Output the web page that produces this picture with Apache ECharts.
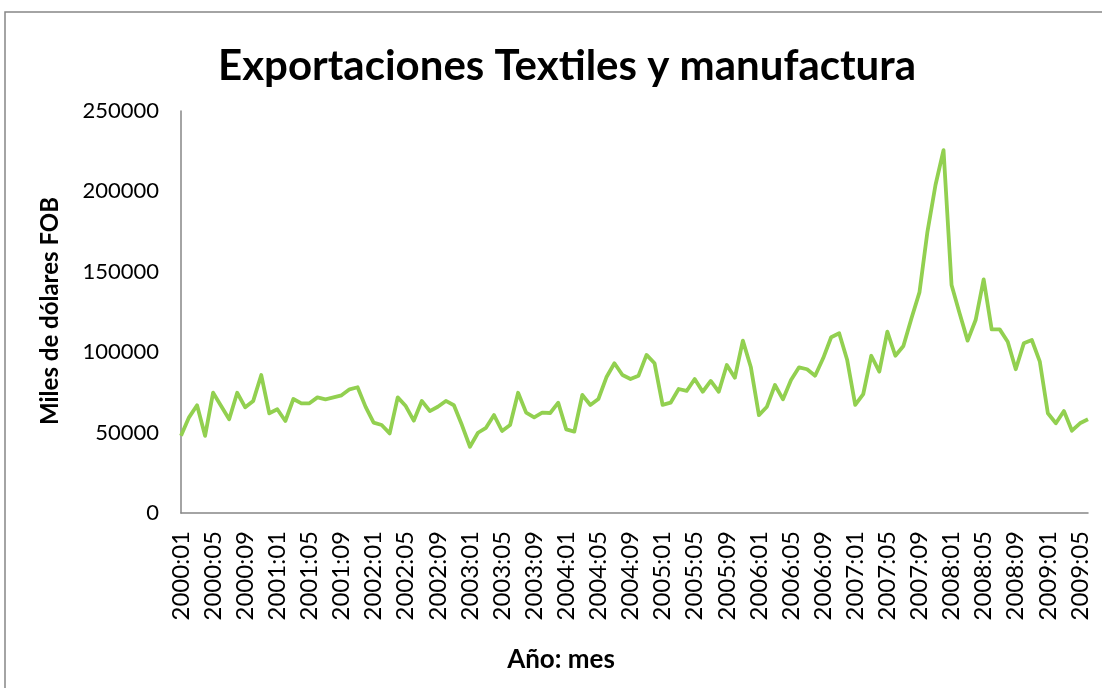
<!DOCTYPE html>
<html>
<head>
<meta charset="utf-8">
<script src="https://cdn.jsdelivr.net/npm/echarts@6/dist/echarts.min.js"></script>
<style>
html,body{margin:0;padding:0;background:#fff;}
#chart{width:1102px;height:688px;}
</style>
</head>
<body>
<div id="chart"></div>
<script>
var titleText = 'Exportaciones Textiles y manufactura';
var yAxisTitle = 'Miles de dólares FOB';
var xAxisTitle = 'Año: mes';

var years = [2000, 2001, 2002, 2003, 2004, 2005, 2006, 2007, 2008, 2009];
var months = ['01','02','03','04','05','06','07','08','09','10','11','12'];
var lastMonthCount = 6; // 2009 runs to 06

var categories = [];
years.forEach(function (y, yi) {
  var n = (yi === years.length - 1) ? lastMonthCount : 12;
  for (var m = 0; m < n; m++) categories.push(y + ':' + months[m]);
});

var exportValues = [
  48000, 59500, 67000, 48000, 74800, 66500, 58300, 74800, 65700, 69700, 85800, 62000,
  64500, 57200, 70900, 68200, 68200, 71900, 70700, 71900, 73200, 76900, 78200, 66000,
  56200, 54700, 49500, 71900, 66500, 57400, 69700, 63400, 66100, 69700, 67000, 54700,
  41200, 49900, 53000, 60900, 51000, 54700, 74800, 62400, 59500, 62400, 62200, 68600,
  52000, 50600, 73400, 67200, 70900, 84400, 93100, 85800, 83300, 85400, 98300, 93100,
  67200, 68600, 77100, 75900, 83300, 75400, 82100, 75400, 92000, 84100, 107200, 90600,
  60900, 66100, 79600, 70700, 82700, 90600, 89400, 85400, 96200, 109300, 111800, 95100,
  67200, 74000, 97800, 87900, 112800, 97800, 103900, 121000, 137200, 175000, 204000, 225700,
  141800, 124200, 107200, 120000, 145300, 114200, 114200, 106500, 89400, 105500, 107600, 94100,
  62000, 55800, 63400, 51200, 55800, 58300
];

var yTicks = [0, 50000, 100000, 150000, 200000, 250000];

var chart = echarts.init(document.getElementById('chart'));
chart.setOption({
  backgroundColor: '#fff',
  animation: false,
  title: {
    text: titleText,
    left: 562,
    textAlign: 'center',
    top: 40,
    textStyle: { fontFamily: 'Lato', fontWeight: 'bold', fontSize: 42, color: '#000' }
  },
  graphic: [
    {
      type: 'rect', z: -1, silent: true,
      shape: { x: 5, y: 12, width: 1200, height: 800 },
      style: { fill: 'none', stroke: '#868686', lineWidth: 1.5 }
    },
    {
      type: 'text', silent: true,
      x: 50, y: 311, rotation: Math.PI / 2,
      style: {
        text: yAxisTitle, fontFamily: 'Lato', fontWeight: 'bold', fontSize: 24,
        fill: '#000', align: 'center', verticalAlign: 'middle'
      }
    },
    {
      type: 'text', silent: true,
      x: 561, y: 660,
      style: {
        text: xAxisTitle, fontFamily: 'Lato', fontWeight: 'bold', fontSize: 26,
        fill: '#000', align: 'center', verticalAlign: 'middle'
      }
    }
  ],
  grid: { left: 181, right: 14, top: 111, bottom: 175, containLabel: false },
  xAxis: {
    type: 'category',
    data: categories,
    boundaryGap: false,
    axisLine: { show: true, lineStyle: { color: '#868686', width: 1.5 } },
    axisTick: { show: false },
    axisLabel: {
      interval: 3,
      rotate: 90,
      margin: 18,
      fontFamily: 'Lato',
      fontSize: 24,
      color: '#000'
    },
    splitLine: { show: false }
  },
  yAxis: {
    type: 'value',
    min: yTicks[0],
    max: yTicks[yTicks.length - 1],
    interval: 50000,
    axisLine: { show: true, lineStyle: { color: '#868686', width: 1.5 } },
    axisTick: { show: false },
    axisLabel: {
      margin: 22,
      fontFamily: 'Lato',
      fontSize: 22,
      color: '#000',
      formatter: function (v) { return String(v); }
    },
    splitLine: { show: false }
  },
  series: [{
    type: 'line',
    data: exportValues,
    showSymbol: false,
    symbol: 'none',
    lineStyle: { color: '#92D050', width: 3.8, join: 'round' },
    itemStyle: { color: '#92D050' }
  }]
});
</script>
</body>
</html>
